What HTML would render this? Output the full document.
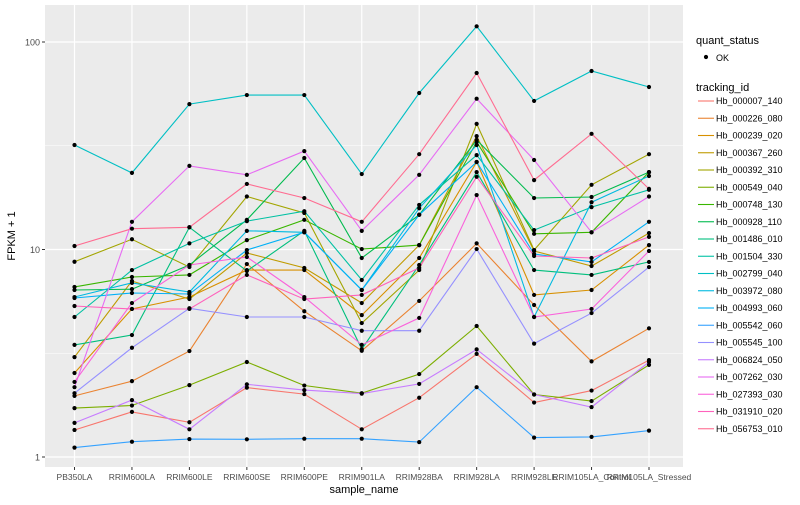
<!DOCTYPE html>
<html><head><meta charset="utf-8"><style>
body{margin:0;background:#fff;font-family:"Liberation Sans",sans-serif;}
svg text{font-family:"Liberation Sans",sans-serif;}
</style></head><body>
<svg id="chart" width="800" height="500" xmlns="http://www.w3.org/2000/svg">
<rect x="0" y="0" width="800" height="500" fill="#fff"/>
<rect x="45" y="5" width="638" height="462" fill="#EBEBEB"/>
<g id="grid"></g><g id="lines"></g><g id="pts"></g><g id="axes"></g><g id="legend"></g>
</svg>
<script>
const categories=["PB350LA","RRIM600LA","RRIM600LE","RRIM600SE","RRIM600PE","RRIM901LA","RRIM928BA","RRIM928LA","RRIM928LE","RRIM105LA_Control","RRIM105LA_Stressed"];
const seriesNames=["Hb_000007_140","Hb_000226_080","Hb_000239_020","Hb_000367_260","Hb_000392_310","Hb_000549_040","Hb_000748_130","Hb_000928_110","Hb_001486_010","Hb_001504_330","Hb_002799_040","Hb_003972_080","Hb_004993_060","Hb_005542_060","Hb_005545_100","Hb_006824_050","Hb_007262_030","Hb_027393_030","Hb_031910_020","Hb_056753_010"];
const seriesColors=["#F8766D","#EA8331","#D89000","#C09B00","#A3A500","#7CAE00","#39B600","#00BB4E","#00BF7D","#00C1A3","#00BFC4","#00BAE0","#00B0F6","#35A2FF","#9590FF","#C77CFF","#E76BF3","#FA62DB","#FF62BC","#FF6C91"];
const s000007=[1.35,1.65,1.47,2.16,2.01,1.36,1.93,3.14,1.83,2.09,2.93];
const s000226=[1.97,2.32,3.24,8.51,5.04,3.25,5.65,10.7,5.4,2.89,4.17];
const s000239=[2.54,5.17,5.90,7.96,7.96,4.83,9.10,26.4,6.04,6.38,10.5];
const s000367=[3.03,7.05,5.77,9.62,8.15,5.52,10.5,35.2,9.84,8.33,12.0];
const s000392=[8.73,11.2,8.23,18.0,15.0,4.42,7.96,40.3,9.94,20.5,28.8];
const s000549=[1.72,1.77,2.22,2.87,2.21,2.03,2.51,4.28,2.0,1.86,2.78];
const s000748=[6.60,7.37,7.54,11.1,13.9,10.05,10.5,33.0,11.9,12.1,23.6];
const s000928=[6.38,6.44,8.42,13.9,27.6,9.10,14.7,33.7,17.7,17.9,23.6];
const s001486=[3.47,3.87,12.8,7.88,12.3,3.31,8.42,23.6,7.96,7.54,8.71];
const s001504=[4.73,7.96,10.7,13.7,15.3,7.13,16.4,28.5,12.4,16.0,19.4];
const s002799=[31.9,23.4,50.2,55.5,55.5,23.1,56.8,119,52,72.5,60.7];
const s003972=[5.90,6.90,6.24,12.3,12.1,6.38,15.8,31.9,4.73,16.9,22.6];
const s004993=[5.84,6.17,6.10,9.94,12.1,6.38,14.7,26.4,9.51,8.71,13.6];
const s005542=[1.11,1.185,1.22,1.217,1.225,1.225,1.18,2.17,1.24,1.25,1.34];
const s005545=[2.03,3.36,5.21,4.73,4.73,4.06,4.06,10.05,3.52,4.94,8.23];
const s006824=[1.46,1.88,1.36,2.24,2.10,2.02,2.25,3.30,2.0,1.74,2.87];
const s007262=[2.17,13.6,25.3,22.9,29.8,12.3,22.9,53.3,27.0,12.1,18.0];
const s027393=[2.30,5.52,8.42,9.20,5.90,3.47,4.68,18.3,4.73,5.17,9.84];
const s031910=[5.34,5.17,5.17,7.54,5.77,6.04,8.15,22.4,9.30,9.10,11.5];
const s056753=[10.4,12.6,12.8,20.7,17.7,13.6,28.8,70.9,21.6,36.1,19.6];
const seriesValues=[s000007,s000226,s000239,s000367,s000392,s000549,s000748,s000928,s001486,s001504,s002799,s003972,s004993,s005542,s005545,s006824,s007262,s027393,s031910,s056753];
const yMajorTicks=[1,10,100];
const yTickLabels=["1","10","100"];
const yMinorTicks=[3.1623,31.623];

const NS="http://www.w3.org/2000/svg";
const X0=74.5,XSTEP=57.45,Y1=457,DEC=207.5;
function xScale(i){return X0+i*XSTEP;}
function yScale(v){return Y1-Math.log10(v)*DEC;}
function mk(tag,attrs,parent){const e=document.createElementNS(NS,tag);for(const k in attrs)e.setAttribute(k,attrs[k]);parent.appendChild(e);return e;}
const grid=document.getElementById('grid'),lines=document.getElementById('lines'),pts=document.getElementById('pts'),axes=document.getElementById('axes'),legend=document.getElementById('legend');

yMinorTicks.forEach(v=>{const l=mk('line',{x1:45,x2:683,y1:yScale(v),y2:yScale(v),stroke:'#fff','stroke-width':0.6},grid);

});
yMajorTicks.forEach((v,i)=>{const l=mk('line',{x1:45,x2:683,y1:yScale(v),y2:yScale(v),stroke:'#fff','stroke-width':1.2},grid);


const t=mk('text',{x:40,y:yScale(v)+3.5,'text-anchor':'end','font-size':9,fill:'#4D4D4D'},axes);t.textContent=yTickLabels[i];


const tk=mk('line',{x1:42,x2:45,y1:yScale(v),y2:yScale(v),stroke:'#333','stroke-width':1},axes);

});
categories.forEach((c,i)=>{const l=mk('line',{x1:xScale(i),x2:xScale(i),y1:5,y2:467,stroke:'#fff','stroke-width':1.2},grid);


const tk=mk('line',{x1:xScale(i),x2:xScale(i),y1:467,y2:470,stroke:'#333','stroke-width':1},axes);


const t=mk('text',{x:xScale(i),y:480,'text-anchor':'middle','font-size':8.5,fill:'#4D4D4D'},axes);t.textContent=c;

});
seriesValues.forEach((vals,s)=>{const d=vals.map((v,i)=>(i?'L':'M')+xScale(i).toFixed(1)+','+yScale(v).toFixed(1)).join('');
const p=mk('path',{d:d,fill:'none',stroke:seriesColors[s],'stroke-width':1.1},lines);


vals.forEach((v,i)=>{const c=mk('circle',{cx:xScale(i),cy:yScale(v),r:2.1,fill:'#000'},pts);

});});
let t=mk('text',{x:364,y:493,'text-anchor':'middle','font-size':11,fill:'#000'},axes);t.textContent='sample_name';


t=mk('text',{x:15,y:236,'text-anchor':'middle','font-size':11,fill:'#000',transform:'rotate(-90 15 236)'},axes);t.textContent='FPKM + 1';


t=mk('text',{x:696,y:44,'font-size':11,fill:'#000'},legend);t.textContent='quant_status';


let c=mk('circle',{cx:706,cy:57,r:2.1,fill:'#000'},legend);


t=mk('text',{x:716,y:61,'font-size':9,fill:'#000'},legend);t.textContent='OK';


t=mk('text',{x:696,y:91,'font-size':11,fill:'#000'},legend);t.textContent='tracking_id';


seriesNames.forEach((n,s)=>{const y=101+s*17.25;
const l=mk('line',{x1:698,x2:714,y1:y,y2:y,stroke:seriesColors[s],'stroke-width':1.1},legend);


const tx=mk('text',{x:716,y:y+3.2,'font-size':9,fill:'#000'},legend);tx.textContent=n;

});
</script>
</body></html>
